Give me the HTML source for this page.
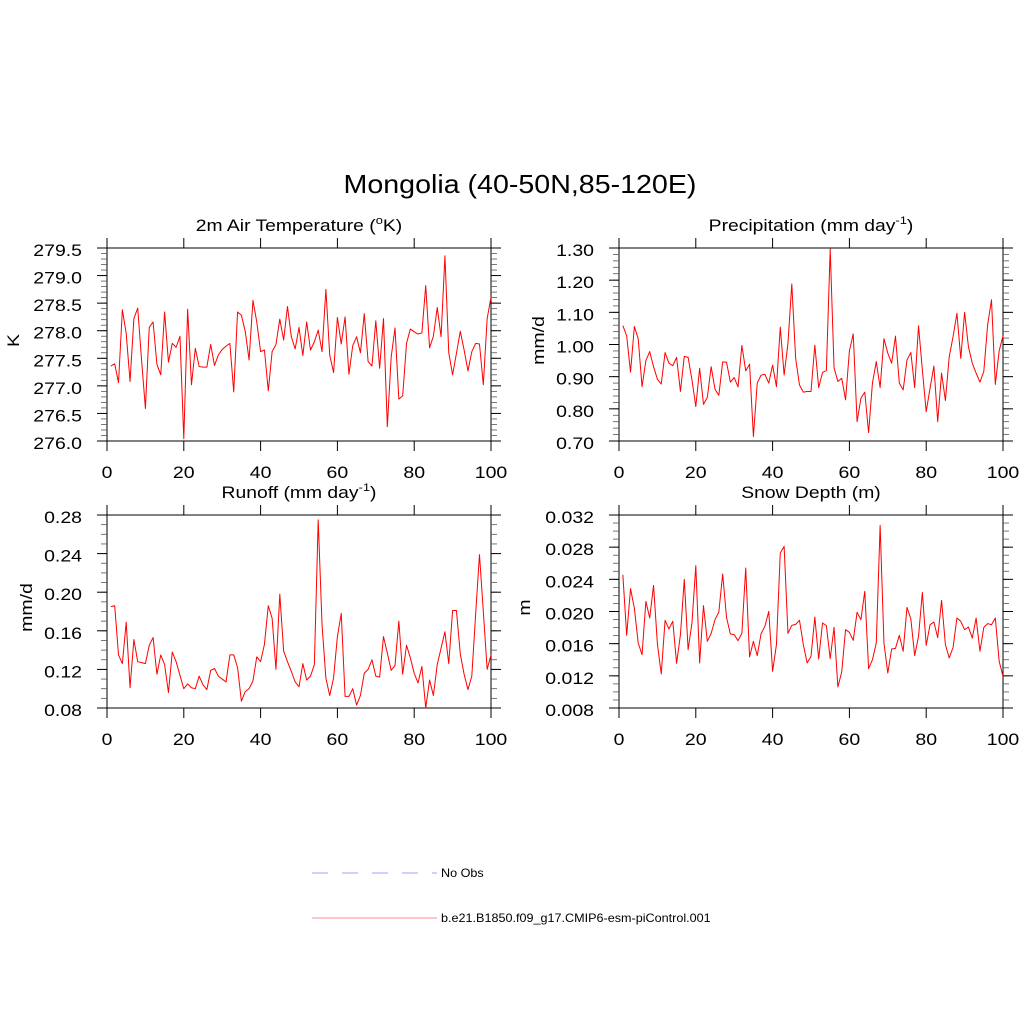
<!DOCTYPE html>
<html><head><meta charset="utf-8">
<style>
html,body{margin:0;padding:0;background:#fff;}
svg{display:block;font-family:"Liberation Sans",Arial,sans-serif;}
</style></head>
<body>
<svg id="chart" width="1024" height="1024" viewBox="0 0 1024 1024">
<text id="mainTitle" x="520" y="193" font-size="26" text-anchor="middle">Mongolia (40-50N,85-120E)</text>
<g id="panels"></g>
<g>
<line x1="312" y1="873" x2="437" y2="873" stroke="#a0a0ff" stroke-width="1" stroke-dasharray="16,14"/>
<text class="wide5" x="441" y="877" font-size="12">No Obs</text>
<line x1="312" y1="918" x2="437" y2="918" stroke="#ff9090" stroke-width="1"/>
<text class="wide5" x="441" y="922" font-size="12">b.e21.B1850.f09_g17.CMIP6-esm-piControl.001</text>
</g>
</svg>
<script>
const tempValues=[277.36,277.40,277.06,278.38,277.95,277.08,278.22,278.41,277.47,276.59,278.06,278.16,277.39,277.20,278.34,277.43,277.77,277.70,277.90,276.04,278.39,277.02,277.68,277.35,277.34,277.34,277.75,277.37,277.56,277.66,277.72,277.77,276.89,278.34,278.28,277.99,277.47,278.55,278.16,277.62,277.65,276.91,277.62,277.75,278.21,277.83,278.44,277.89,277.67,278.06,277.55,278.16,277.65,277.80,278.01,277.62,278.75,277.56,277.24,278.24,277.76,278.25,277.21,277.73,277.89,277.60,278.31,277.44,277.36,278.18,277.32,278.22,276.26,277.52,278.05,276.76,276.82,277.77,278.03,277.98,277.94,277.96,278.82,277.69,277.90,278.42,277.89,279.36,277.60,277.20,277.59,277.99,277.65,277.27,277.62,277.77,277.76,277.02,278.22,278.61];
const precValues=[1.059,1.027,0.914,1.056,1.018,0.869,0.950,0.978,0.931,0.892,0.877,0.975,0.942,0.934,0.960,0.854,0.963,0.960,0.890,0.807,0.926,0.814,0.836,0.931,0.861,0.842,0.946,0.945,0.883,0.897,0.868,0.997,0.918,0.939,0.714,0.880,0.905,0.907,0.880,0.936,0.869,1.054,0.905,1.004,1.188,0.957,0.874,0.852,0.854,0.854,0.998,0.866,0.913,0.919,1.297,0.928,0.885,0.895,0.828,0.980,1.033,0.760,0.833,0.852,0.726,0.880,0.947,0.866,1.018,0.973,0.942,1.026,0.880,0.859,0.952,0.975,0.866,1.058,0.921,0.791,0.864,0.933,0.760,0.911,0.826,0.962,1.025,1.097,0.957,1.100,0.993,0.942,0.911,0.883,0.916,1.061,1.139,0.876,0.980,1.027];
const runoffValues=[0.185,0.186,0.135,0.126,0.169,0.101,0.151,0.128,0.127,0.126,0.145,0.153,0.115,0.135,0.125,0.096,0.138,0.128,0.114,0.100,0.105,0.101,0.100,0.113,0.104,0.099,0.119,0.121,0.113,0.110,0.107,0.135,0.135,0.122,0.087,0.097,0.100,0.108,0.133,0.128,0.146,0.186,0.173,0.120,0.198,0.139,0.128,0.118,0.107,0.102,0.126,0.109,0.113,0.125,0.275,0.166,0.111,0.093,0.111,0.154,0.178,0.092,0.092,0.100,0.083,0.093,0.116,0.120,0.130,0.113,0.112,0.154,0.137,0.119,0.124,0.170,0.115,0.145,0.132,0.116,0.106,0.123,0.080,0.109,0.093,0.125,0.142,0.159,0.126,0.181,0.181,0.136,0.115,0.099,0.113,0.177,0.239,0.180,0.120,0.135];
const snowValues=[0.02458,0.01704,0.02284,0.02043,0.01608,0.01463,0.02126,0.01919,0.02325,0.01596,0.01223,0.01890,0.01782,0.01878,0.01355,0.01712,0.02400,0.01525,0.01857,0.02570,0.01360,0.02073,0.01629,0.01728,0.01898,0.01994,0.02466,0.01927,0.01720,0.01712,0.01637,0.01728,0.02541,0.01434,0.01629,0.01451,0.01724,0.01816,0.02002,0.01256,0.01588,0.02727,0.02810,0.01728,0.01828,0.01840,0.01890,0.01588,0.01360,0.01442,0.01932,0.01409,0.01857,0.01824,0.01413,0.01803,0.01061,0.01248,0.01774,0.01741,0.01641,0.01990,0.01898,0.02251,0.01289,0.01401,0.01608,0.03071,0.01608,0.01235,0.01534,0.01542,0.01704,0.01505,0.02052,0.01907,0.01451,0.01691,0.02238,0.01579,0.01836,0.01869,0.01675,0.02139,0.01588,0.01422,0.01554,0.01919,0.01878,0.01774,0.01807,0.01670,0.01919,0.01505,0.01803,0.01849,0.01836,0.01919,0.01380,0.01194];
const tempTicks=["276.0","276.5","277.0","277.5","278.0","278.5","279.0","279.5"];
const precTicks=["0.70","0.80","0.90","1.00","1.10","1.20","1.30"];
const runoffTicks=["0.08","0.12","0.16","0.20","0.24","0.28"];
const snowTicks=["0.008","0.012","0.016","0.020","0.024","0.028","0.032"];
const xTickLabels=["0","20","40","60","80","100"];

const NS="http://www.w3.org/2000/svg";
const root=document.getElementById('panels');
function mk(tag,attrs,parent){const e=document.createElementNS(NS,tag);for(const k in attrs)e.setAttribute(k,attrs[k]);parent.appendChild(e);return e;}
function widen(el,f){const w=el.getComputedTextLength();el.setAttribute('textLength',(w*f).toFixed(1));el.setAttribute('lengthAdjust','spacingAndGlyphs');}

const panels=[
 {key:'temp',x0:107,x1:491,yT:248,yB:441,min:276.0,max:279.5,ticks:tempTicks,minorStep:0.1,vals:tempValues,title:'2m Air Temperature (',sup:'o',tail:'K)',ylab:'K',ylabX:19},
 {key:'prec',x0:619,x1:1003,yT:248,yB:441,min:0.70,max:1.30,ticks:precTicks,minorStep:0.02,vals:precValues,title:'Precipitation (mm day',sup:'-1',tail:')',ylab:'mm/d',ylabX:544},
 {key:'runoff',x0:107,x1:491,yT:515,yB:708,min:0.08,max:0.28,ticks:runoffTicks,minorStep:0.01,vals:runoffValues,title:'Runoff (mm day',sup:'-1',tail:')',ylab:'mm/d',ylabX:32},
 {key:'snow',x0:619,x1:1003,yT:515,yB:708,min:0.008,max:0.032,ticks:snowTicks,minorStep:0.001,vals:snowValues,title:'Snow Depth (m)',sup:'',tail:'',ylab:'m',ylabX:530}
];

panels.forEach(p=>{
  const g=mk('g',{},root);
  
  
  const xs=v=>p.x0+(v/100)*(p.x1-p.x0);
  const ys=v=>p.yB-(v-p.min)/(p.max-p.min)*(p.yB-p.yT);
  const t=mk('text',{x:(p.x0+p.x1)/2,y:p.yT-17,'font-size':16.5,'text-anchor':'middle'},g);
  
  
  t.appendChild(document.createTextNode(p.title));
  if(p.sup){const s=mk('tspan',{dy:-7,'font-size':11},t);s.textContent=p.sup;const s2=mk('tspan',{dy:7},t);s2.textContent=p.tail;}
  widen(t,1.17);
  const fr=mk('rect',{x:p.x0,y:p.yT,width:p.x1-p.x0,height:p.yB-p.yT,fill:'none',stroke:'#000','stroke-width':1},g);
  
  
  const nMinor=Math.round((p.max-p.min)/p.minorStep);
  for(let i=0;i<=nMinor;i++){
    const v=p.min+i*p.minorStep,y=ys(v);
    mk('line',{x1:p.x0-6,x2:p.x0,y1:y,y2:y,stroke:'#555','stroke-width':0.8},g);
    mk('line',{x1:p.x1,x2:p.x1+6,y1:y,y2:y,stroke:'#555','stroke-width':0.8},g);
  }
  p.ticks.forEach(lbl=>{
    const y=ys(parseFloat(lbl));
    mk('line',{x1:p.x0-10,x2:p.x0,y1:y,y2:y,stroke:'#000','stroke-width':1},g);
    mk('line',{x1:p.x1,x2:p.x1+10,y1:y,y2:y,stroke:'#000','stroke-width':1},g);
    const tl=mk('text',{x:p.x0-25,y:y+8,'font-size':16.5,'text-anchor':'end'},g);
    
    
    tl.textContent=lbl;
    widen(tl,1.18);
  });
  xTickLabels.forEach(lbl=>{
    const x=xs(parseFloat(lbl));
    mk('line',{x1:x,x2:x,y1:p.yB,y2:p.yB+10,stroke:'#000','stroke-width':1},g);
    mk('line',{x1:x,x2:x,y1:p.yT-10,y2:p.yT,stroke:'#000','stroke-width':1},g);
    const tl=mk('text',{x:x,y:p.yB+37,'font-size':16.5,'text-anchor':'middle'},g);
    
    
    tl.textContent=lbl;
    widen(tl,1.18);
  });
  const cy=(p.yT+p.yB)/2-4;
  const yl=mk('text',{x:p.ylabX,y:cy,'font-size':16.5,'text-anchor':'middle',transform:'rotate(-90 '+p.ylabX+' '+cy+')'},g);
  
  
  yl.textContent=p.ylab;
  widen(yl,1.18);
  const pts=p.vals.map((v,i)=>xs(i+1).toFixed(2)+','+ys(v).toFixed(2)).join(' ');
  const pl=mk('polyline',{points:pts,fill:'none',stroke:'#ff0000','stroke-width':1,'stroke-linejoin':'round'},g);
  
  
});
widen(document.getElementById('mainTitle'),1.1);
document.querySelectorAll('.wide5').forEach(e=>widen(e,1.05));
</script>
</body></html>
